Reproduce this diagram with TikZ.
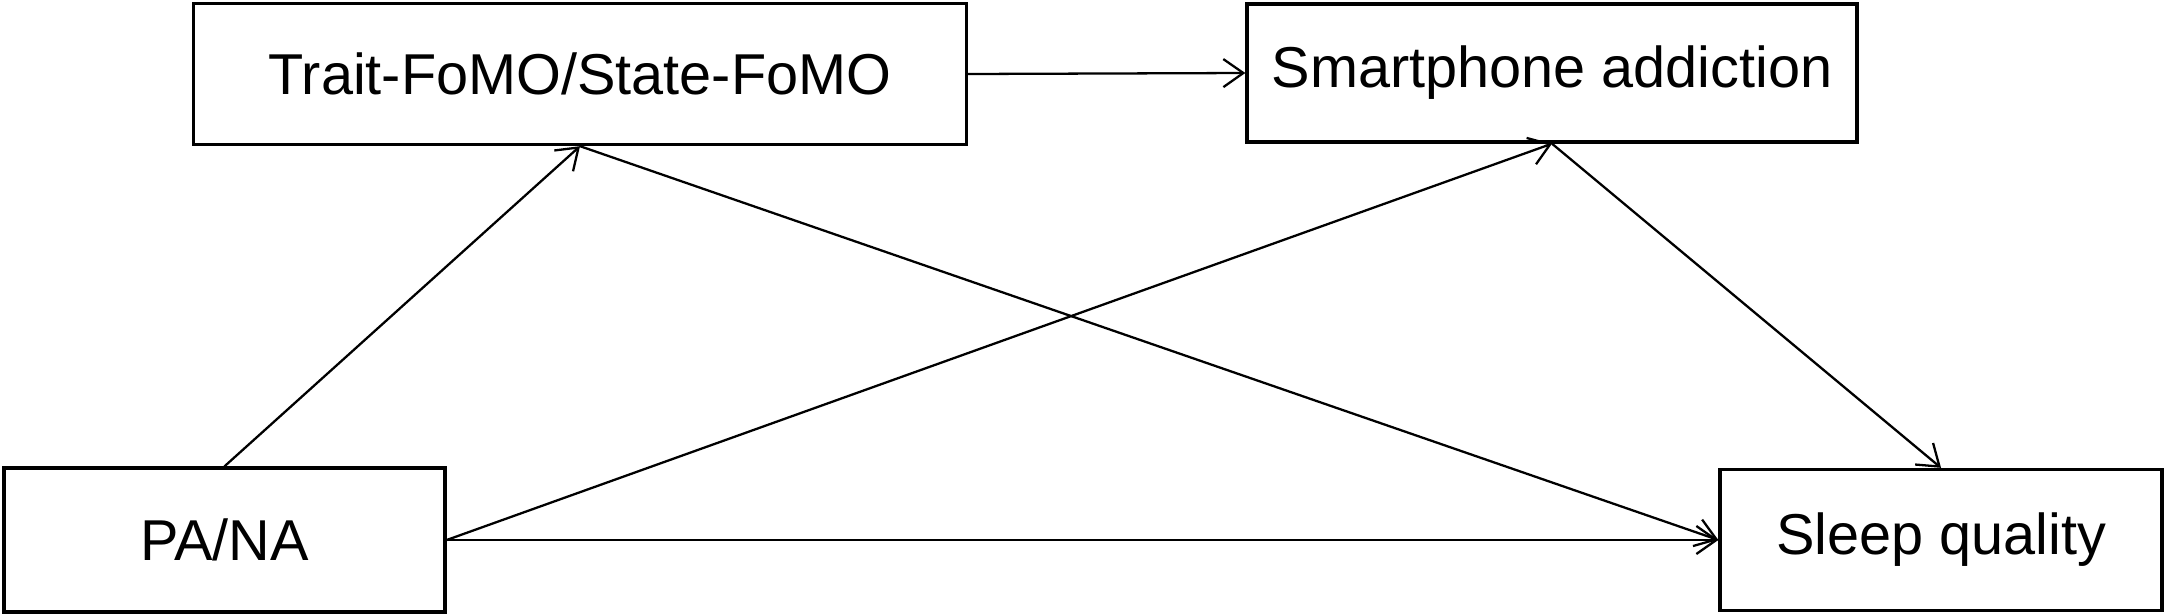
\documentclass[tikz,border=0pt]{standalone}
\usepackage{fontspec}
\setmainfont{Liberation Sans}
\usepackage{tikz}
\usetikzlibrary{arrows.meta}
\tikzset{
    varbox/.style = {draw, rectangle, line width=0.95pt,
                    minimum height=1.41cm, inner sep=0pt,
                    font=\fontsize{16.4}{19}\selectfont},
    link/.style   = {line width=0.65pt,
                    -{Straight Barb[length=2mm,width=2.8mm,line width=0.65pt]}},
  }
\begin{document}
\begin{tikzpicture}
    \useasboundingbox (0,0) rectangle (21.65,6.14);

    % Variables: mediators on top, predictor and outcome below
    \node[varbox, minimum width=7.73cm] (fomo)  at (5.80,5.40)  {Trait-FoMO/State-FoMO};
    \node[varbox, minimum width=6.10cm, minimum height=1.38cm] (phone) at (15.52,5.41) {Smartphone addiction};
    \node[varbox, minimum width=4.41cm, minimum height=1.44cm] (pana)  at (2.245,0.74) {PA/NA};
    \node[varbox, minimum width=4.42cm] (sleep) at (19.41,0.74) {Sleep quality};

    % Paths
    \draw[link] (fomo.east)   -- (phone.west);
    \draw[link] (pana.north)  -- (fomo.south);
    \draw[link] (fomo.south)  -- (sleep.west);
    \draw[link] (pana.east)   -- (phone.south);
    \draw[link] (phone.south) -- (sleep.north);
    \draw[link] (pana.east)   -- (sleep.west);
\end{tikzpicture}
\end{document}
